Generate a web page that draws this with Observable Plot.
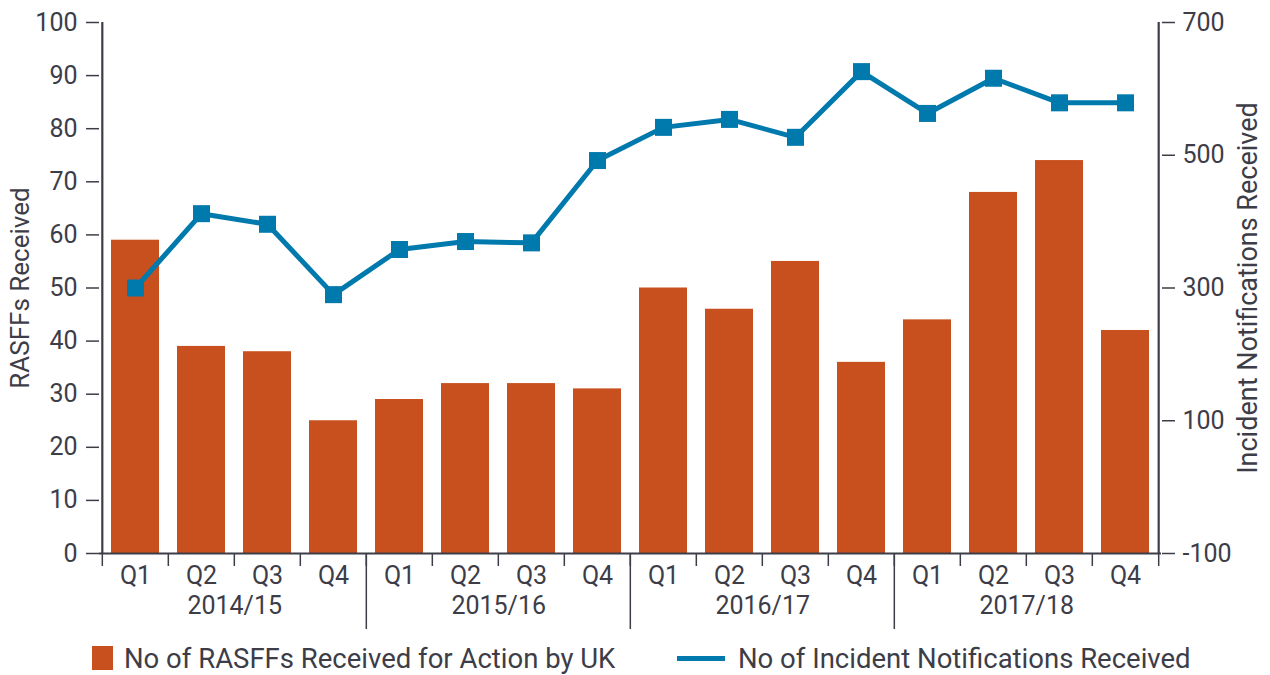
<!DOCTYPE html>
<html><head><meta charset="utf-8">
<script src="https://cdn.jsdelivr.net/npm/d3@7"></script>
<script src="https://cdn.jsdelivr.net/npm/@observablehq/plot@0.6"></script>
<style>
body{margin:0;background:#fff;font-family:Roboto,sans-serif;}
#chart{position:relative;width:1270px;height:675px;}
.leg{position:absolute;top:636px;height:44px;display:flex;align-items:center;font-size:27.5px;color:#3d3d48;white-space:nowrap}
</style></head><body><div id="chart"></div>
<script>
const years = ["2014/15","2015/16","2016/17","2017/18"];
const quarters = ["Q1","Q2","Q3","Q4"];
const rasffs = [59,39,38,25, 29,32,32,31, 50,46,55,36, 44,68,74,42];
const incidents = [300,412,396,290, 358,370,368,492, 542,554,527,626, 563,616,579,579];
const leftTicks = [0,10,20,30,40,50,60,70,80,90,100];
const rightTicks = [-100,100,300,500,700];
const seriesNames = ["No of RASFFs Received for Action by UK","No of Incident Notifications Received"];
const axisTitles = ["RASFFs Received","Incident Notifications Received"];

const BAR = "#C8501E", BLUE = "#0079AD", INK = "#3d3d48";
const W = 1270, H = 636, ML = 99, MR = 109, MT = 22, MB = 83;
const keys = years.flatMap(y => quarters.map(q => `${y} ${q}`));
const step = (W - ML - MR) / keys.length;
const toLeft = v => (v + 100) / 8;
const data = keys.map((k, i) => ({key: k, rasffs: rasffs[i], incidents: incidents[i], inc: toLeft(incidents[i])}));

const plot = Plot.plot({
  width: W, height: H,
  marginLeft: ML, marginRight: MR, marginTop: MT, marginBottom: MB,
  style: {color: INK, fontSize: "25px", fontFamily: "Roboto, sans-serif", background: "#fff"},
  x: {domain: keys, paddingInner: 0.28, paddingOuter: 0.14, axis: null},
  y: {domain: [0, 100], axis: null},
  marks: [
    Plot.barY(data, {x: "key", y: "rasffs", fill: BAR}),
    Plot.ruleY([0], {stroke: INK, strokeWidth: 2}),
    Plot.ruleX([keys[0]], {dx: -step/2, stroke: INK, strokeWidth: 2.2}),
    Plot.ruleX([keys[keys.length-1]], {dx: step/2, stroke: INK, strokeWidth: 2.2}),
    Plot.ruleX(keys, {dx: -step/2, stroke: INK, strokeWidth: 1.5, insetTop: H - MT - MB, insetBottom: -13}),
    Plot.ruleX([keys[keys.length-1]], {dx: step/2, stroke: INK, strokeWidth: 1.5, insetTop: H - MT - MB, insetBottom: -13}),
    Plot.ruleX([keys[4], keys[8], keys[12]], {dx: -step/2, stroke: INK, strokeWidth: 1.5, insetTop: H - MT - MB, insetBottom: -76}),
    Plot.line(data, {x: "key", y: "inc", stroke: BLUE, strokeWidth: 5}),
    Plot.dot(data, {x: "key", y: "inc", symbol: "square", r: 9.6, fill: BLUE}),
    Plot.axisY(leftTicks, {anchor: "left", tickSize: 13, tickPadding: 9, strokeWidth: 1.5, label: null}),
    Plot.axisY(rightTicks.map(toLeft), {anchor: "right", tickSize: 13, tickPadding: 8, strokeWidth: 1.5, tickFormat: d => String(Math.round(d * 8 - 100)), label: null}),
    Plot.axisX(keys, {anchor: "bottom", tickSize: 0, tickPadding: 13, tickFormat: d => d.split(" ")[1], label: null}),
    Plot.axisX(keys.filter(k => k.endsWith("Q2")), {anchor: "bottom", tickSize: 0, tickPadding: 43, dx: step/2, tickFormat: d => d.split(" ")[0], label: null}),
    Plot.text([axisTitles[0]], {frameAnchor: "left", dx: -79, rotate: -90, textAnchor: "middle", lineAnchor: "middle", fontSize: 26, fill: INK}),
    Plot.text([axisTitles[1]], {frameAnchor: "right", dx: 87, rotate: -90, textAnchor: "middle", lineAnchor: "middle", fontSize: 27, fill: INK})
  ]
});
const chart = document.getElementById("chart");
chart.appendChild(plot);

const l1 = document.createElement("div");
l1.className = "leg"; l1.style.left = "92px";
l1.innerHTML = `<span style="display:inline-block;width:21px;height:24px;background:${BAR};margin-right:11px"></span><span>${seriesNames[0]}</span>`;
chart.appendChild(l1);
const l2 = document.createElement("div");
l2.className = "leg"; l2.style.left = "677px";
l2.innerHTML = `<span style="display:inline-block;width:48px;height:5px;background:${BLUE};margin-right:13px"></span><span>${seriesNames[1]}</span>`;
chart.appendChild(l2);
</script></body></html>
